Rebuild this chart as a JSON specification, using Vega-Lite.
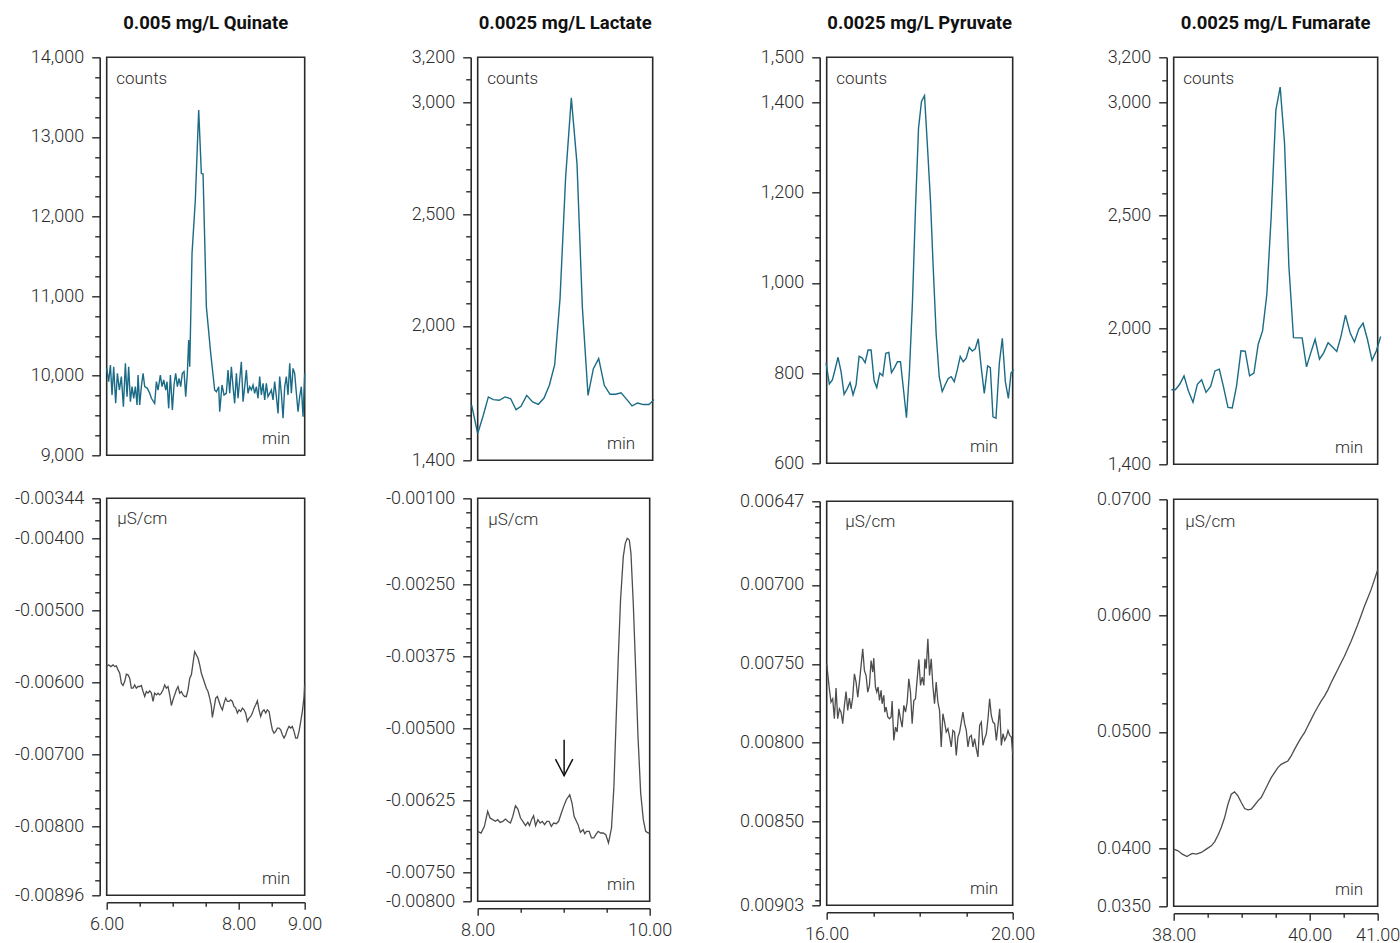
{
"$schema": "https://vega.github.io/schema/vega-lite/v6.json",
"background": "white",
"padding": {"left": 12.7, "top": 13.3, "right": 5, "bottom": 5},
"config": {
  "font": "Roboto",
  "view": {"stroke": "#2a2a2a", "strokeWidth": 1.6},
  "axis": {"grid": false, "offset": 7, "labelFont": "Roboto", "labelFontSize": 18, "labelFontWeight": 300, "labelColor": "#2a2a2a", "labelOverlap": false, "labelFlush": false, "domainColor": "#2a2a2a", "domainWidth": 1.6, "tickColor": "#2a2a2a", "tickWidth": 1.4, "titleFont": "Roboto", "titleFontSize": 17, "titleFontWeight": 300, "titleColor": "#2a2a2a", "titlePadding": 0},
  "axisY": {"labelPadding": 8, "titleAngle": 0, "titleAlign": "left", "titleBaseline": "alphabetic", "titleX": 16, "titleY": 26.5},
  "axisX": {"labelPadding": 6, "titleAlign": "right", "titleBaseline": "alphabetic", "titleY": -18.5},
  "title": {"font": "Roboto", "fontSize": 18.5, "fontWeight": "bold", "color": "#111111", "offset": 15.5, "baseline": "alphabetic", "frame": "group"}
},
"datasets": {
"qc": [{"t":6.0,"v":10092},{"t":6.030,"v":9925},{"t":6.056,"v":10134},{"t":6.081,"v":9758},{"t":6.106,"v":10112},{"t":6.136,"v":9653},{"t":6.162,"v":10030},{"t":6.192,"v":9820},{"t":6.222,"v":9988},{"t":6.253,"v":9611},{"t":6.283,"v":10155},{"t":6.308,"v":9737},{"t":6.333,"v":10112},{"t":6.359,"v":9674},{"t":6.384,"v":9862},{"t":6.409,"v":9716},{"t":6.434,"v":9862},{"t":6.460,"v":9632},{"t":6.475,"v":10009},{"t":6.500,"v":9632},{"t":6.525,"v":9862},{"t":6.551,"v":10030},{"t":6.576,"v":9862},{"t":6.616,"v":9841},{"t":6.652,"v":9779},{"t":6.677,"v":9716},{"t":6.727,"v":9653},{"t":6.753,"v":9925},{"t":6.778,"v":9820},{"t":6.813,"v":10009},{"t":6.838,"v":9862},{"t":6.864,"v":9946},{"t":6.894,"v":9820},{"t":6.914,"v":9925},{"t":6.939,"v":9590},{"t":6.965,"v":10009},{"t":6.995,"v":9569},{"t":7.020,"v":9883},{"t":7.045,"v":10030},{"t":7.071,"v":9862},{"t":7.096,"v":9967},{"t":7.121,"v":9862},{"t":7.146,"v":10030},{"t":7.172,"v":10051},{"t":7.197,"v":9737},{"t":7.222,"v":10030},{"t":7.242,"v":10448},{"t":7.258,"v":10112},{"t":7.293,"v":11537},{"t":7.343,"v":12207},{"t":7.394,"v":13338},{"t":7.434,"v":12542},{"t":7.460,"v":12534},{"t":7.510,"v":10867},{"t":7.576,"v":10281},{"t":7.636,"v":9820},{"t":7.662,"v":9799},{"t":7.697,"v":9862},{"t":7.712,"v":9548},{"t":7.747,"v":9883},{"t":7.778,"v":9758},{"t":7.813,"v":9779},{"t":7.838,"v":10071},{"t":7.864,"v":9779},{"t":7.889,"v":10112},{"t":7.914,"v":9862},{"t":7.939,"v":9653},{"t":7.965,"v":10030},{"t":7.990,"v":9716},{"t":8.015,"v":9946},{"t":8.040,"v":10176},{"t":8.066,"v":9674},{"t":8.091,"v":9862},{"t":8.116,"v":10071},{"t":8.141,"v":9779},{"t":8.167,"v":9862},{"t":8.192,"v":9820},{"t":8.217,"v":9883},{"t":8.242,"v":9779},{"t":8.268,"v":9862},{"t":8.293,"v":9716},{"t":8.318,"v":9988},{"t":8.343,"v":9758},{"t":8.369,"v":9904},{"t":8.394,"v":9695},{"t":8.419,"v":9904},{"t":8.444,"v":9737},{"t":8.470,"v":9779},{"t":8.495,"v":9820},{"t":8.520,"v":9695},{"t":8.545,"v":9925},{"t":8.571,"v":9737},{"t":8.596,"v":9527},{"t":8.621,"v":9988},{"t":8.646,"v":9779},{"t":8.672,"v":9465},{"t":8.697,"v":9862},{"t":8.722,"v":9988},{"t":8.747,"v":9758},{"t":8.773,"v":10155},{"t":8.798,"v":9779},{"t":8.823,"v":10092},{"t":8.848,"v":10030},{"t":8.874,"v":9779},{"t":8.899,"v":9548},{"t":8.924,"v":9737},{"t":8.949,"v":9862},{"t":8.975,"v":9485},{"t":9.0,"v":10030}],
"qs": [{"t":6.000,"v":-0.00578},{"t":6.030,"v":-0.005756},{"t":6.061,"v":-0.00578},{"t":6.096,"v":-0.005756},{"t":6.121,"v":-0.00578},{"t":6.146,"v":-0.00577},{"t":6.172,"v":-0.005826},{"t":6.197,"v":-0.005872},{"t":6.222,"v":-0.006011},{"t":6.247,"v":-0.006043},{"t":6.273,"v":-0.005988},{"t":6.298,"v":-0.005886},{"t":6.323,"v":-0.005895},{"t":6.348,"v":-0.005941},{"t":6.374,"v":-0.00608},{"t":6.399,"v":-0.00608},{"t":6.424,"v":-0.006034},{"t":6.449,"v":-0.00608},{"t":6.475,"v":-0.006057},{"t":6.500,"v":-0.006057},{"t":6.525,"v":-0.006043},{"t":6.551,"v":-0.006126},{"t":6.576,"v":-0.006196},{"t":6.601,"v":-0.006126},{"t":6.626,"v":-0.006149},{"t":6.652,"v":-0.006117},{"t":6.677,"v":-0.006149},{"t":6.702,"v":-0.006265},{"t":6.727,"v":-0.006149},{"t":6.753,"v":-0.006173},{"t":6.778,"v":-0.006149},{"t":6.803,"v":-0.006173},{"t":6.828,"v":-0.006149},{"t":6.854,"v":-0.006103},{"t":6.879,"v":-0.006034},{"t":6.904,"v":-0.00608},{"t":6.929,"v":-0.006057},{"t":6.955,"v":-0.006173},{"t":6.980,"v":-0.006321},{"t":7.005,"v":-0.006242},{"t":7.030,"v":-0.006173},{"t":7.056,"v":-0.006103},{"t":7.081,"v":-0.006057},{"t":7.106,"v":-0.006149},{"t":7.131,"v":-0.006126},{"t":7.157,"v":-0.006173},{"t":7.182,"v":-0.006196},{"t":7.207,"v":-0.006196},{"t":7.232,"v":-0.006103},{"t":7.258,"v":-0.005941},{"t":7.283,"v":-0.005895},{"t":7.308,"v":-0.005733},{"t":7.333,"v":-0.005571},{"t":7.359,"v":-0.005618},{"t":7.384,"v":-0.005664},{"t":7.409,"v":-0.005756},{"t":7.434,"v":-0.005872},{"t":7.460,"v":-0.005941},{"t":7.485,"v":-0.006011},{"t":7.510,"v":-0.00608},{"t":7.535,"v":-0.006126},{"t":7.561,"v":-0.006219},{"t":7.586,"v":-0.006334},{"t":7.601,"v":-0.006487},{"t":7.626,"v":-0.006358},{"t":7.652,"v":-0.006219},{"t":7.677,"v":-0.006196},{"t":7.702,"v":-0.006265},{"t":7.727,"v":-0.006334},{"t":7.753,"v":-0.006381},{"t":7.778,"v":-0.006288},{"t":7.803,"v":-0.006219},{"t":7.828,"v":-0.006265},{"t":7.854,"v":-0.006265},{"t":7.879,"v":-0.006242},{"t":7.904,"v":-0.006265},{"t":7.929,"v":-0.006334},{"t":7.955,"v":-0.006358},{"t":7.980,"v":-0.006427},{"t":8.005,"v":-0.006381},{"t":8.030,"v":-0.006404},{"t":8.056,"v":-0.006358},{"t":8.081,"v":-0.006381},{"t":8.106,"v":-0.006427},{"t":8.131,"v":-0.006542},{"t":8.157,"v":-0.006496},{"t":8.182,"v":-0.006473},{"t":8.207,"v":-0.006427},{"t":8.232,"v":-0.006358},{"t":8.258,"v":-0.006311},{"t":8.283,"v":-0.006256},{"t":8.308,"v":-0.006381},{"t":8.333,"v":-0.006473},{"t":8.359,"v":-0.006404},{"t":8.384,"v":-0.006381},{"t":8.409,"v":-0.006427},{"t":8.434,"v":-0.006381},{"t":8.460,"v":-0.006404},{"t":8.485,"v":-0.006542},{"t":8.510,"v":-0.006658},{"t":8.535,"v":-0.006704},{"t":8.561,"v":-0.006681},{"t":8.586,"v":-0.006635},{"t":8.611,"v":-0.006635},{"t":8.636,"v":-0.006658},{"t":8.662,"v":-0.006727},{"t":8.687,"v":-0.006774},{"t":8.712,"v":-0.006727},{"t":8.737,"v":-0.006658},{"t":8.763,"v":-0.006612},{"t":8.788,"v":-0.006635},{"t":8.813,"v":-0.006612},{"t":8.838,"v":-0.006681},{"t":8.864,"v":-0.006774},{"t":8.889,"v":-0.006774},{"t":8.914,"v":-0.00668},{"t":8.939,"v":-0.00655},{"t":8.965,"v":-0.0064},{"t":8.990,"v":-0.0062},{"t":9.0,"v":-0.00603}],
"lc": [{"t":7.931,"v":1646},{"t":8.000,"v":1519},{"t":8.064,"v":1601},{"t":8.122,"v":1683},{"t":8.179,"v":1671},{"t":8.247,"v":1668},{"t":8.312,"v":1683},{"t":8.377,"v":1675},{"t":8.438,"v":1626},{"t":8.495,"v":1641},{"t":8.560,"v":1690},{"t":8.628,"v":1661},{"t":8.693,"v":1650},{"t":8.758,"v":1678},{"t":8.819,"v":1735},{"t":8.880,"v":1827},{"t":8.941,"v":2122},{"t":9.005,"v":2665},{"t":9.070,"v":3019},{"t":9.135,"v":2724},{"t":9.196,"v":2085},{"t":9.261,"v":1690},{"t":9.322,"v":1809},{"t":9.383,"v":1854},{"t":9.447,"v":1735},{"t":9.512,"v":1695},{"t":9.577,"v":1695},{"t":9.638,"v":1701},{"t":9.703,"v":1672},{"t":9.764,"v":1643},{"t":9.828,"v":1656},{"t":9.893,"v":1649},{"t":9.958,"v":1649},{"t":10.015,"v":1671}],
"ls": [{"t":8.000,"v":-0.006785},{"t":8.039,"v":-0.006814},{"t":8.078,"v":-0.006698},{"t":8.116,"v":-0.006438},{"t":8.144,"v":-0.006554},{"t":8.175,"v":-0.006582},{"t":8.206,"v":-0.006611},{"t":8.233,"v":-0.006582},{"t":8.260,"v":-0.006629},{"t":8.292,"v":-0.006611},{"t":8.323,"v":-0.006571},{"t":8.350,"v":-0.006611},{"t":8.381,"v":-0.00664},{"t":8.408,"v":-0.006525},{"t":8.439,"v":-0.006339},{"t":8.467,"v":-0.006397},{"t":8.498,"v":-0.006554},{"t":8.525,"v":-0.006611},{"t":8.556,"v":-0.006686},{"t":8.583,"v":-0.006629},{"t":8.603,"v":-0.006686},{"t":8.626,"v":-0.006582},{"t":8.650,"v":-0.006513},{"t":8.673,"v":-0.006686},{"t":8.700,"v":-0.006582},{"t":8.727,"v":-0.00664},{"t":8.751,"v":-0.006611},{"t":8.778,"v":-0.006669},{"t":8.805,"v":-0.006611},{"t":8.829,"v":-0.006611},{"t":8.856,"v":-0.006698},{"t":8.883,"v":-0.00664},{"t":8.914,"v":-0.006652},{"t":8.941,"v":-0.006611},{"t":8.973,"v":-0.006467},{"t":9.000,"v":-0.006351},{"t":9.031,"v":-0.006235},{"t":9.070,"v":-0.006149},{"t":9.097,"v":-0.006293},{"t":9.121,"v":-0.006525},{"t":9.148,"v":-0.006611},{"t":9.167,"v":-0.006669},{"t":9.194,"v":-0.006802},{"t":9.226,"v":-0.006756},{"t":9.245,"v":-0.006825},{"t":9.265,"v":-0.006785},{"t":9.296,"v":-0.006785},{"t":9.323,"v":-0.0069},{"t":9.350,"v":-0.0069},{"t":9.373,"v":-0.006843},{"t":9.401,"v":-0.006785},{"t":9.428,"v":-0.006814},{"t":9.459,"v":-0.006814},{"t":9.490,"v":-0.006843},{"t":9.521,"v":-0.006987},{"t":9.556,"v":-0.006727},{"t":9.584,"v":-0.006004},{"t":9.607,"v":-0.004963},{"t":9.634,"v":-0.003806},{"t":9.661,"v":-0.002765},{"t":9.693,"v":-0.002013},{"t":9.716,"v":-0.001782},{"t":9.739,"v":-0.001695},{"t":9.763,"v":-0.001724},{"t":9.782,"v":-0.001955},{"t":9.809,"v":-0.002823},{"t":9.837,"v":-0.003979},{"t":9.864,"v":-0.005136},{"t":9.895,"v":-0.00612},{"t":9.926,"v":-0.006582},{"t":9.953,"v":-0.006785},{"t":9.984,"v":-0.006814},{"t":10.0,"v":-0.006814}],
"arrow": [{"seg":"shaft","o":1,"t":9.005,"v":-0.005194},{"seg":"shaft","o":2,"t":9.005,"v":-0.005819},{"seg":"head","o":1,"t":8.904,"v":-0.005529},{"seg":"head","o":2,"t":9.005,"v":-0.005819},{"seg":"head","o":3,"t":9.106,"v":-0.005529}],
"pc": [{"t":15.986,"v":822},{"t":16.057,"v":776},{"t":16.122,"v":785},{"t":16.180,"v":808},{"t":16.244,"v":835},{"t":16.309,"v":803},{"t":16.374,"v":753},{"t":16.445,"v":766},{"t":16.503,"v":779},{"t":16.567,"v":752},{"t":16.632,"v":774},{"t":16.697,"v":837},{"t":16.761,"v":834},{"t":16.826,"v":823},{"t":16.890,"v":851},{"t":16.955,"v":851},{"t":17.020,"v":783},{"t":17.077,"v":768},{"t":17.142,"v":800},{"t":17.206,"v":794},{"t":17.271,"v":844},{"t":17.336,"v":846},{"t":17.393,"v":801},{"t":17.458,"v":812},{"t":17.522,"v":825},{"t":17.587,"v":825},{"t":17.652,"v":763},{"t":17.716,"v":701},{"t":17.781,"v":807},{"t":17.845,"v":959},{"t":17.910,"v":1166},{"t":17.975,"v":1343},{"t":18.039,"v":1402},{"t":18.104,"v":1415},{"t":18.169,"v":1299},{"t":18.233,"v":1180},{"t":18.291,"v":1033},{"t":18.355,"v":885},{"t":18.420,"v":792},{"t":18.485,"v":759},{"t":18.549,"v":774},{"t":18.614,"v":788},{"t":18.678,"v":792},{"t":18.743,"v":781},{"t":18.808,"v":807},{"t":18.872,"v":837},{"t":18.937,"v":825},{"t":19.001,"v":833},{"t":19.066,"v":857},{"t":19.131,"v":849},{"t":19.195,"v":854},{"t":19.260,"v":876},{"t":19.325,"v":811},{"t":19.389,"v":755},{"t":19.461,"v":816},{"t":19.519,"v":812},{"t":19.576,"v":703},{"t":19.641,"v":700},{"t":19.713,"v":822},{"t":19.777,"v":877},{"t":19.842,"v":781},{"t":19.907,"v":744},{"t":19.964,"v":800},{"t":20.021,"v":807}],
"ps": [{"t":16.0,"v":0.0075},{"t":16.057,"v":0.007658},{"t":16.093,"v":0.007742},{"t":16.129,"v":0.007721},{"t":16.165,"v":0.007848},{"t":16.201,"v":0.007654},{"t":16.237,"v":0.007848},{"t":16.273,"v":0.007785},{"t":16.309,"v":0.007806},{"t":16.345,"v":0.007879},{"t":16.381,"v":0.007763},{"t":16.416,"v":0.007675},{"t":16.452,"v":0.007795},{"t":16.488,"v":0.007717},{"t":16.524,"v":0.007785},{"t":16.560,"v":0.007711},{"t":16.596,"v":0.007563},{"t":16.632,"v":0.007616},{"t":16.668,"v":0.007711},{"t":16.704,"v":0.007616},{"t":16.740,"v":0.00751},{"t":16.775,"v":0.007405},{"t":16.811,"v":0.007542},{"t":16.847,"v":0.007574},{"t":16.883,"v":0.007679},{"t":16.919,"v":0.007637},{"t":16.955,"v":0.007479},{"t":16.991,"v":0.007552},{"t":17.012,"v":0.007464},{"t":17.048,"v":0.007647},{"t":17.077,"v":0.007679},{"t":17.106,"v":0.007647},{"t":17.135,"v":0.007732},{"t":17.170,"v":0.007668},{"t":17.192,"v":0.007753},{"t":17.228,"v":0.0077},{"t":17.249,"v":0.007806},{"t":17.278,"v":0.007774},{"t":17.314,"v":0.007837},{"t":17.350,"v":0.007848},{"t":17.386,"v":0.007837},{"t":17.407,"v":0.007736},{"t":17.443,"v":0.007985},{"t":17.479,"v":0.007901},{"t":17.515,"v":0.007932},{"t":17.551,"v":0.007785},{"t":17.587,"v":0.007848},{"t":17.623,"v":0.007901},{"t":17.659,"v":0.007763},{"t":17.695,"v":0.007806},{"t":17.731,"v":0.007742},{"t":17.766,"v":0.007595},{"t":17.802,"v":0.007679},{"t":17.838,"v":0.007879},{"t":17.874,"v":0.007732},{"t":17.910,"v":0.007721},{"t":17.946,"v":0.007595},{"t":17.982,"v":0.007472},{"t":18.018,"v":0.007637},{"t":18.054,"v":0.007584},{"t":18.090,"v":0.007637},{"t":18.111,"v":0.007468},{"t":18.140,"v":0.007531},{"t":18.176,"v":0.007341},{"t":18.212,"v":0.007574},{"t":18.248,"v":0.007468},{"t":18.283,"v":0.007637},{"t":18.319,"v":0.007753},{"t":18.355,"v":0.007616},{"t":18.391,"v":0.007742},{"t":18.427,"v":0.007795},{"t":18.463,"v":0.008027},{"t":18.499,"v":0.007816},{"t":18.535,"v":0.007869},{"t":18.571,"v":0.007932},{"t":18.607,"v":0.007911},{"t":18.643,"v":0.007964},{"t":18.679,"v":0.008027},{"t":18.714,"v":0.007922},{"t":18.750,"v":0.007932},{"t":18.786,"v":0.00808},{"t":18.822,"v":0.007964},{"t":18.858,"v":0.007932},{"t":18.894,"v":0.007869},{"t":18.930,"v":0.007806},{"t":18.966,"v":0.007879},{"t":19.002,"v":0.007922},{"t":19.038,"v":0.008027},{"t":19.074,"v":0.007964},{"t":19.110,"v":0.007953},{"t":19.145,"v":0.008027},{"t":19.181,"v":0.007974},{"t":19.217,"v":0.008038},{"t":19.253,"v":0.00809},{"t":19.289,"v":0.00789},{"t":19.325,"v":0.007869},{"t":19.361,"v":0.008017},{"t":19.397,"v":0.007974},{"t":19.433,"v":0.007943},{"t":19.469,"v":0.007848},{"t":19.504,"v":0.007721},{"t":19.540,"v":0.007827},{"t":19.576,"v":0.007869},{"t":19.612,"v":0.007879},{"t":19.648,"v":0.007985},{"t":19.684,"v":0.00789},{"t":19.720,"v":0.007785},{"t":19.756,"v":0.008017},{"t":19.792,"v":0.007943},{"t":19.828,"v":0.007985},{"t":19.864,"v":0.007964},{"t":19.899,"v":0.007922},{"t":19.935,"v":0.007953},{"t":19.971,"v":0.007964},{"t":20.0,"v":0.008069}],
"fc": [{"t":37.966,"v":1730},{"t":38.024,"v":1730},{"t":38.088,"v":1754},{"t":38.152,"v":1791},{"t":38.215,"v":1725},{"t":38.284,"v":1674},{"t":38.348,"v":1754},{"t":38.411,"v":1774},{"t":38.475,"v":1718},{"t":38.543,"v":1744},{"t":38.607,"v":1813},{"t":38.671,"v":1821},{"t":38.734,"v":1740},{"t":38.798,"v":1652},{"t":38.861,"v":1649},{"t":38.925,"v":1747},{"t":38.989,"v":1902},{"t":39.052,"v":1900},{"t":39.116,"v":1791},{"t":39.180,"v":1803},{"t":39.243,"v":1931},{"t":39.307,"v":1990},{"t":39.370,"v":2152},{"t":39.434,"v":2497},{"t":39.503,"v":2968},{"t":39.566,"v":3068},{"t":39.630,"v":2821},{"t":39.694,"v":2276},{"t":39.762,"v":1960},{"t":39.826,"v":1959},{"t":39.889,"v":1959},{"t":39.953,"v":1831},{"t":40.017,"v":1894},{"t":40.080,"v":1953},{"t":40.144,"v":1865},{"t":40.207,"v":1894},{"t":40.271,"v":1938},{"t":40.335,"v":1919},{"t":40.398,"v":1899},{"t":40.462,"v":1968},{"t":40.526,"v":2060},{"t":40.594,"v":1982},{"t":40.658,"v":1941},{"t":40.721,"v":1997},{"t":40.785,"v":2024},{"t":40.849,"v":1953},{"t":40.917,"v":1860},{"t":40.981,"v":1902},{"t":41.044,"v":1965}],
"fs": [{"t":38.000,"v":0.039914},{"t":38.064,"v":0.039771},{"t":38.127,"v":0.039485},{"t":38.196,"v":0.039285},{"t":38.235,"v":0.039428},{"t":38.274,"v":0.039543},{"t":38.333,"v":0.039485},{"t":38.406,"v":0.039628},{"t":38.480,"v":0.039914},{"t":38.553,"v":0.0402},{"t":38.602,"v":0.040544},{"t":38.651,"v":0.041116},{"t":38.700,"v":0.041774},{"t":38.749,"v":0.042632},{"t":38.798,"v":0.043777},{"t":38.847,"v":0.044635},{"t":38.896,"v":0.044836},{"t":38.945,"v":0.044492},{"t":38.994,"v":0.04392},{"t":39.043,"v":0.043405},{"t":39.092,"v":0.043291},{"t":39.141,"v":0.043348},{"t":39.189,"v":0.043691},{"t":39.238,"v":0.044063},{"t":39.287,"v":0.044349},{"t":39.336,"v":0.044921},{"t":39.385,"v":0.045494},{"t":39.434,"v":0.046066},{"t":39.483,"v":0.046495},{"t":39.532,"v":0.046924},{"t":39.581,"v":0.04721},{"t":39.630,"v":0.047353},{"t":39.679,"v":0.047497},{"t":39.728,"v":0.047926},{"t":39.777,"v":0.048498},{"t":39.826,"v":0.049013},{"t":39.875,"v":0.049499},{"t":39.924,"v":0.049929},{"t":39.973,"v":0.050501},{"t":40.022,"v":0.051073},{"t":40.071,"v":0.051645},{"t":40.120,"v":0.05216},{"t":40.168,"v":0.052647},{"t":40.217,"v":0.053076},{"t":40.266,"v":0.053591},{"t":40.315,"v":0.05422},{"t":40.364,"v":0.054793},{"t":40.413,"v":0.055365},{"t":40.462,"v":0.055937},{"t":40.511,"v":0.056509},{"t":40.560,"v":0.057139},{"t":40.609,"v":0.057797},{"t":40.658,"v":0.058512},{"t":40.707,"v":0.059227},{"t":40.756,"v":0.06},{"t":40.805,"v":0.060801},{"t":40.854,"v":0.061516},{"t":40.903,"v":0.062232},{"t":40.952,"v":0.06309},{"t":41.000,"v":0.063948}]
},
"spacing": 65,
"hconcat": [
 {"spacing": 61, "hconcat": [
  {"spacing": 43, "bounds": "flush", "vconcat": [
   {"width": 198, "height": 398,
    "title": {"text": "0.005 mg/L Quinate"},
    "data": {"name": "qc"},
    "mark": {"type": "line", "color": "#1b6b86", "strokeWidth": 1.4},
    "encoding": {
     "x": {"field": "t", "type": "quantitative", "scale": {"domain": [6, 9], "nice": false, "zero": false}, "axis": {"domain": false, "ticks": false, "labels": false, "title": "min", "titleX": 183}},
     "y": {"field": "v", "type": "quantitative", "scale": {"domain": [9000, 14000], "nice": false, "zero": false}, "axis": {"title": "counts", "values": [9000,9250,9500,9750,10000,10250,10500,10750,11000,11250,11500,11750,12000,12250,12500,12750,13000,13250,13500,13750,14000], "labelExpr": "datum.value % 1000 === 0 ? format(datum.value, ',') : ''", "tickSize": {"condition": {"test": "datum.value % 1000 === 0", "value": 8}, "value": 5}}}
    }},
   {"width": 198, "height": 397,
    "data": {"name": "qs"},
    "mark": {"type": "line", "color": "#4d4d4d", "strokeWidth": 1.3},
    "encoding": {
     "x": {"field": "t", "type": "quantitative", "scale": {"domain": [6, 9], "nice": false, "zero": false}, "axis": {"title": "min", "titleX": 183, "values": [6,6.5,7,7.5,8,8.5,9], "labelExpr": "indexof([6,8,9], datum.value) >= 0 ? format(datum.value, '.2f') : ''", "tickSize": {"condition": {"test": "indexof([6,8,9], datum.value) >= 0", "value": 7}, "value": 4}}},
     "y": {"field": "v", "type": "quantitative", "scale": {"domain": [-0.00896, -0.00344], "nice": false, "zero": false}, "axis": {"title": "µS/cm", "titleX": 17, "titleY": 25, "values": [-0.00896,-0.00875,-0.0085,-0.00825,-0.008,-0.00775,-0.0075,-0.00725,-0.007,-0.00675,-0.0065,-0.00625,-0.006,-0.00575,-0.0055,-0.00525,-0.005,-0.00475,-0.0045,-0.00425,-0.004,-0.00375,-0.0035,-0.00344], "labelExpr": "indexof([-0.00896,-0.008,-0.007,-0.006,-0.005,-0.004,-0.00344], datum.value) >= 0 ? '-' + format(abs(datum.value), '.5f') : ''", "tickSize": {"condition": {"test": "indexof([-0.00896,-0.008,-0.007,-0.006,-0.005,-0.004,-0.00344], datum.value) >= 0", "value": 8}, "value": 5}}}
    }}
  ]},
  {"spacing": 38, "bounds": "flush", "vconcat": [
   {"width": 175, "height": 403,
    "title": {"text": "0.0025 mg/L Lactate"},
    "data": {"name": "lc"},
    "mark": {"type": "line", "color": "#1b6b86", "strokeWidth": 1.4},
    "encoding": {
     "x": {"field": "t", "type": "quantitative", "scale": {"domain": [8, 10], "nice": false, "zero": false}, "axis": {"domain": false, "ticks": false, "labels": false, "title": "min", "titleX": 157}},
     "y": {"field": "v", "type": "quantitative", "scale": {"domain": [1400, 3200], "nice": false, "zero": false}, "axis": {"title": "counts", "values": [1400,1500,1600,1700,1800,1900,2000,2100,2200,2300,2400,2500,2600,2700,2800,2900,3000,3100,3200], "labelExpr": "indexof([1400,2000,2500,3000,3200], datum.value) >= 0 ? format(datum.value, ',') : ''", "tickSize": {"condition": {"test": "indexof([1400,2000,2500,3000,3200], datum.value) >= 0", "value": 8}, "value": 5}}}
    }},
   {"width": 172, "height": 403,
    "encoding": {
     "x": {"field": "t", "type": "quantitative", "scale": {"domain": [8, 10], "nice": false, "zero": false}, "axis": {"title": "min", "titleX": 157, "values": [8,8.5,9,9.5,10], "labelExpr": "indexof([8,10], datum.value) >= 0 ? format(datum.value, '.2f') : ''", "tickSize": {"condition": {"test": "indexof([8,10], datum.value) >= 0", "value": 7}, "value": 4}}},
     "y": {"field": "v", "type": "quantitative", "scale": {"domain": [-0.008, -0.001], "nice": false, "zero": false}, "axis": {"title": "µS/cm", "titleX": 17, "titleY": 26, "values": [-0.008,-0.00775,-0.0075,-0.00725,-0.007,-0.00675,-0.0065,-0.00625,-0.006,-0.00575,-0.0055,-0.00525,-0.005,-0.00475,-0.0045,-0.00425,-0.004,-0.00375,-0.0035,-0.00325,-0.003,-0.00275,-0.0025,-0.00225,-0.002,-0.00175,-0.0015,-0.00125,-0.001], "labelExpr": "indexof([-0.008,-0.0075,-0.00625,-0.005,-0.00375,-0.0025,-0.001], datum.value) >= 0 ? '-' + format(abs(datum.value), '.5f') : ''", "tickSize": {"condition": {"test": "indexof([-0.008,-0.0075,-0.00625,-0.005,-0.00375,-0.0025,-0.001], datum.value) >= 0", "value": 8}, "value": 5}}}
    },
    "layer": [
     {"data": {"name": "ls"},
      "mark": {"type": "line", "color": "#4d4d4d", "strokeWidth": 1.3}},
     {"data": {"name": "arrow"},
      "mark": {"type": "line", "color": "#111111", "strokeWidth": 1.5},
      "encoding": {
       "detail": {"field": "seg"},
       "order": {"field": "o"}
      }}
    ]}
  ]}
 ]},
 {"spacing": 59, "hconcat": [
  {"spacing": 38, "bounds": "flush", "vconcat": [
   {"width": 186, "height": 406,
    "title": {"text": "0.0025 mg/L Pyruvate"},
    "data": {"name": "pc"},
    "mark": {"type": "line", "color": "#1b6b86", "strokeWidth": 1.4},
    "encoding": {
     "x": {"field": "t", "type": "quantitative", "scale": {"domain": [16, 20], "nice": false, "zero": false}, "axis": {"domain": false, "ticks": false, "labels": false, "title": "min", "titleX": 171}},
     "y": {"field": "v", "type": "quantitative", "scale": {"domain": [600, 1500], "nice": false, "zero": false}, "axis": {"title": "counts", "values": [600,650,700,750,800,850,900,950,1000,1050,1100,1150,1200,1250,1300,1350,1400,1450,1500], "labelExpr": "(datum.value % 200 === 0 || datum.value === 1500) ? format(datum.value, ',') : ''", "tickSize": {"condition": {"test": "datum.value % 200 === 0 || datum.value === 1500", "value": 8}, "value": 5}}}
    }},
   {"width": 186, "height": 404,
    "data": {"name": "ps"},
    "mark": {"type": "line", "color": "#4d4d4d", "strokeWidth": 1.3},
    "encoding": {
     "x": {"field": "t", "type": "quantitative", "scale": {"domain": [16, 20], "nice": false, "zero": false}, "axis": {"title": "min", "titleX": 171, "values": [16,17,18,19,20], "labelExpr": "indexof([16,20], datum.value) >= 0 ? format(datum.value, '.2f') : ''", "tickSize": {"condition": {"test": "indexof([16,20], datum.value) >= 0", "value": 7}, "value": 4}}},
     "y": {"field": "v", "type": "quantitative", "scale": {"domain": [0.00647, 0.00903], "reverse": true, "nice": false, "zero": false}, "axis": {"title": "µS/cm", "titleX": 25, "titleY": 25, "values": [0.00647,0.0065,0.0066,0.0067,0.0068,0.0069,0.007,0.0071,0.0072,0.0073,0.0074,0.0075,0.0076,0.0077,0.0078,0.0079,0.008,0.0081,0.0082,0.0083,0.0084,0.0085,0.0086,0.0087,0.0088,0.0089,0.009,0.00903], "labelExpr": "indexof([0.00647,0.007,0.0075,0.008,0.0085,0.00903], datum.value) >= 0 ? format(datum.value, '.5f') : ''", "tickSize": {"condition": {"test": "indexof([0.00647,0.007,0.0075,0.008,0.0085,0.00903], datum.value) >= 0", "value": 8}, "value": 5}}}
    }}
  ]},
  {"spacing": 35, "bounds": "flush", "vconcat": [
   {"width": 204, "height": 407,
    "title": {"text": "0.0025 mg/L Fumarate"},
    "data": {"name": "fc"},
    "mark": {"type": "line", "color": "#1b6b86", "strokeWidth": 1.4},
    "encoding": {
     "x": {"field": "t", "type": "quantitative", "scale": {"domain": [38, 41], "nice": false, "zero": false}, "axis": {"domain": false, "ticks": false, "labels": false, "title": "min", "titleX": 189}},
     "y": {"field": "v", "type": "quantitative", "scale": {"domain": [1400, 3200], "nice": false, "zero": false}, "axis": {"title": "counts", "values": [1400,1500,1600,1700,1800,1900,2000,2100,2200,2300,2400,2500,2600,2700,2800,2900,3000,3100,3200], "labelExpr": "indexof([1400,2000,2500,3000,3200], datum.value) >= 0 ? format(datum.value, ',') : ''", "tickSize": {"condition": {"test": "indexof([1400,2000,2500,3000,3200], datum.value) >= 0", "value": 8}, "value": 5}}}
    }},
   {"width": 204, "height": 407,
    "data": {"name": "fs"},
    "mark": {"type": "line", "color": "#4d4d4d", "strokeWidth": 1.3},
    "encoding": {
     "x": {"field": "t", "type": "quantitative", "scale": {"domain": [38, 41], "nice": false, "zero": false}, "axis": {"title": "min", "titleX": 189, "values": [38,38.5,39,39.5,40,40.5,41], "labelExpr": "indexof([38,40,41], datum.value) >= 0 ? format(datum.value, '.2f') : ''", "tickSize": {"condition": {"test": "indexof([38,40,41], datum.value) >= 0", "value": 7}, "value": 4}}},
     "y": {"field": "v", "type": "quantitative", "scale": {"domain": [0.035, 0.07], "nice": false, "zero": false}, "axis": {"title": "µS/cm", "titleX": 18, "titleY": 27, "values": [0.035,0.0375,0.04,0.0425,0.045,0.0475,0.05,0.0525,0.055,0.0575,0.06,0.0625,0.065,0.0675,0.07], "labelExpr": "indexof([0.035,0.04,0.05,0.06,0.07], datum.value) >= 0 ? format(datum.value, '.4f') : ''", "tickSize": {"condition": {"test": "indexof([0.035,0.04,0.05,0.06,0.07], datum.value) >= 0", "value": 8}, "value": 5}}}
    }}
  ]}
 ]}
]
}
